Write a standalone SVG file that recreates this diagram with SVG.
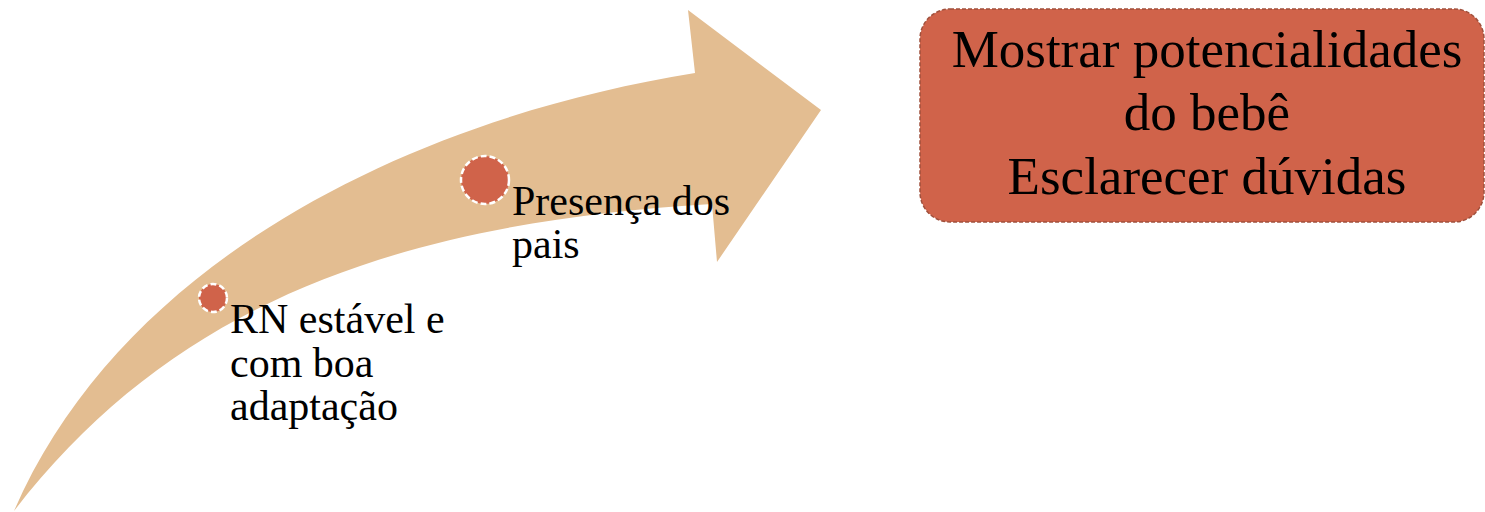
<svg xmlns="http://www.w3.org/2000/svg" width="1485" height="512" viewBox="0 0 1485 512">
  <style>
    text { font-family: 'Liberation Serif', 'Times New Roman', Times, serif; fill: #000000; }
    .lbl { font-size: 42px; }
    .box-lbl { font-size: 53px; text-anchor: middle; }
    .dot { fill: #D0634A; stroke: #FFFFFF; stroke-width: 2.5; stroke-dasharray: 6 3; }
  </style>
  <rect width="1485" height="512" fill="#FFFFFF"/>
  <g id="connectors">
    <path id="arrow" d="M14,511 C124,258 415,118 695,73 L688,10 L821,110 L717,262 L712,204 C412,222 179,296.5 14,511 Z" fill="#E3BD91"/>
  </g>
  <g id="node-rn" font-family="Liberation Serif, serif">
    <circle class="dot" cx="213" cy="298" r="14"/>
    <text class="lbl" x="230" y="333">RN estável e</text>
    <text class="lbl" x="230" y="377">com boa</text>
    <text class="lbl" x="230" y="420">adaptação</text>
  </g>
  <g id="node-pais" font-family="Liberation Serif, serif">
    <circle class="dot" cx="485" cy="180" r="24"/>
    <text class="lbl" x="512" y="215">Presença dos</text>
    <text class="lbl" x="512" y="258">pais</text>
  </g>
  <g id="node-box">
    <rect x="920" y="9" width="564" height="213" rx="30" ry="30" fill="#D0634A" stroke="#A0503C" stroke-width="1.5" stroke-dasharray="4 2"/>
    <text class="box-lbl" x="1207" y="67">Mostrar potencialidades</text>
    <text class="box-lbl" x="1207" y="130">do bebê</text>
    <text class="box-lbl" x="1207" y="194">Esclarecer dúvidas</text>
  </g>
</svg>
